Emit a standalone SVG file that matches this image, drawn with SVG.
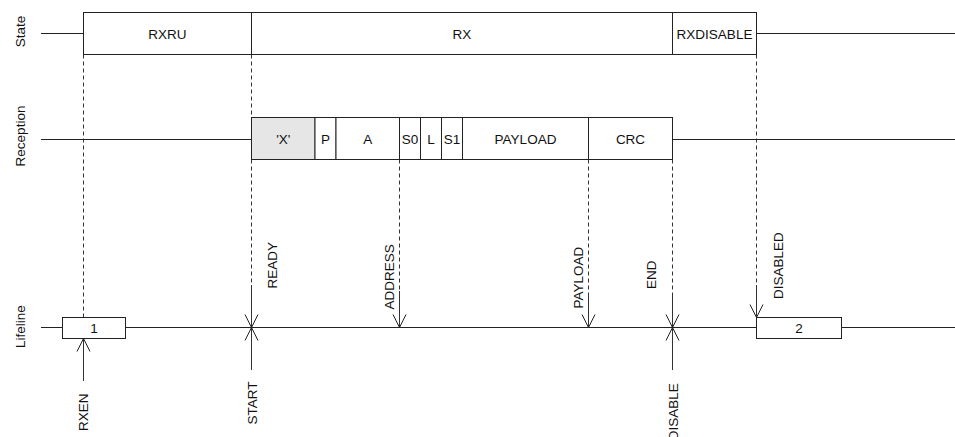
<svg xmlns="http://www.w3.org/2000/svg" width="955" height="437" viewBox="0 0 955 437">
<style>
  text { font-family: "Liberation Sans", Arial, sans-serif; font-size: 13.5px; fill: #111; }
  .c { text-anchor: middle; }
  .box { fill: #fff; stroke: #222; stroke-width: 1; }
  .gray { fill: #e6e6e6; stroke: #222; stroke-width: 1; }
  .ln { fill: none; stroke: #222; stroke-width: 1; }
  .dash { fill: none; stroke: #333; stroke-width: 1; stroke-dasharray: 4 3; }
  .arr { fill: none; stroke: #333; stroke-width: 1; marker-end: url(#open); }
</style>
<defs>
  <marker id="open" markerUnits="userSpaceOnUse" viewBox="-15 -9 17 18" refX="0" refY="0" markerWidth="17" markerHeight="18" orient="auto" overflow="visible">
    <path d="M-13,-6.5 L0,0 L-13,6.5" fill="none" stroke="#222" stroke-width="1"/>
  </marker>
</defs>
<rect width="955" height="437" fill="#fff"/>

<g id="lane-labels">
  <text class="c" transform="translate(25,31.5) rotate(-90)">State</text>
  <text class="c" transform="translate(25,136) rotate(-90)">Reception</text>
  <text class="c" transform="translate(25,326.7) rotate(-90)">Lifeline</text>
</g>

<g id="connectors">
  <!-- dashed guides -->
  <path class="dash" d="M83.5,54.5 V317.5"/>
  <path class="dash" d="M251.5,54.5 V117.5 M251.5,159.5 V285"/>
  <path class="dash" d="M399.5,159.5 V291"/>
  <path class="dash" d="M588.5,159.5 V295"/>
  <path class="dash" d="M672.5,159.5 V296"/>
  <path class="dash" d="M756.5,54.5 V285"/>
  <!-- solid event arrows -->
  <path id="arr-rxen" class="arr" d="M83.5,381 V338.5"/>
  <path id="arr-start" class="arr" d="M251.5,370 V327.5"/>
  <path id="arr-ready" class="arr" d="M251.5,285 V327.5"/>
  <path id="arr-address" class="arr" d="M399.5,291 V327.5"/>
  <path id="arr-payload" class="arr" d="M588.5,295 V327.5"/>
  <path id="arr-end" class="arr" d="M672.5,296 V327.5"/>
  <path id="arr-disable" class="arr" d="M672.5,370 V327.5"/>
  <path id="arr-disabled" class="arr" d="M756.5,285 V317.5"/>
</g>

<g id="state">
  <path class="ln" d="M41,33.5 H83.5 M757,33.5 H955"/>
  <rect class="box" x="83.5" y="12.5" width="168" height="42"/>
  <rect class="box" x="251.5" y="12.5" width="421" height="42"/>
  <rect class="box" x="672.5" y="12.5" width="84" height="42"/>
  <text class="c" x="167.5" y="38.5">RXRU</text>
  <text class="c" x="462" y="38.5">RX</text>
  <text class="c" x="714.5" y="38.5">RXDISABLE</text>
</g>

<g id="reception">
  <path class="ln" d="M41,139.5 H251.5 M672.5,139.5 H955"/>
  <rect class="gray" x="251.5" y="117.5" width="63.5" height="42"/>
  <rect class="box" x="315" y="117.5" width="21" height="42"/>
  <rect class="box" x="336" y="117.5" width="63.5" height="42"/>
  <rect class="box" x="399.5" y="117.5" width="21" height="42"/>
  <rect class="box" x="420.5" y="117.5" width="21" height="42"/>
  <rect class="box" x="441.5" y="117.5" width="21" height="42"/>
  <rect class="box" x="462.5" y="117.5" width="126" height="42"/>
  <rect class="box" x="588.5" y="117.5" width="84" height="42"/>
  <text class="c" x="283.3" y="143.5">'X'</text>
  <text class="c" x="325.5" y="143.5">P</text>
  <text class="c" x="367.7" y="143.5">A</text>
  <text class="c" x="410" y="143.5">S0</text>
  <text class="c" x="431" y="143.5">L</text>
  <text class="c" x="452" y="143.5">S1</text>
  <text class="c" x="525.5" y="143.5">PAYLOAD</text>
  <text class="c" x="630.5" y="143.5">CRC</text>
</g>

<g id="lifeline">
  <path class="ln" d="M41,327.5 H62.5 M125.5,327.5 H756.5 M841.5,327.5 H955"/>
</g>

<g id="box1">
  <rect class="box" x="62.5" y="317.5" width="63" height="21"/>
  <text class="c" x="94" y="332.5">1</text>
</g>
<g id="box2">
  <rect class="box" x="756.5" y="317.5" width="85" height="21"/>
  <text class="c" x="799" y="332.5">2</text>
</g>

<g id="event-labels">
  <text transform="translate(88,431) rotate(-90)">RXEN</text>
  <text transform="translate(277,288.5) rotate(-90)">READY</text>
  <text transform="translate(256.5,424.5) rotate(-90)">START</text>
  <text transform="translate(394,309.5) rotate(-90)">ADDRESS</text>
  <text transform="translate(583.3,308.5) rotate(-90)">PAYLOAD</text>
  <text transform="translate(656,289) rotate(-90)">END</text>
  <text text-anchor="end" transform="translate(678.3,383.3) rotate(-90)">DISABLE</text>
  <text transform="translate(783.3,299) rotate(-90)">DISABLED</text>
</g>
</svg>
